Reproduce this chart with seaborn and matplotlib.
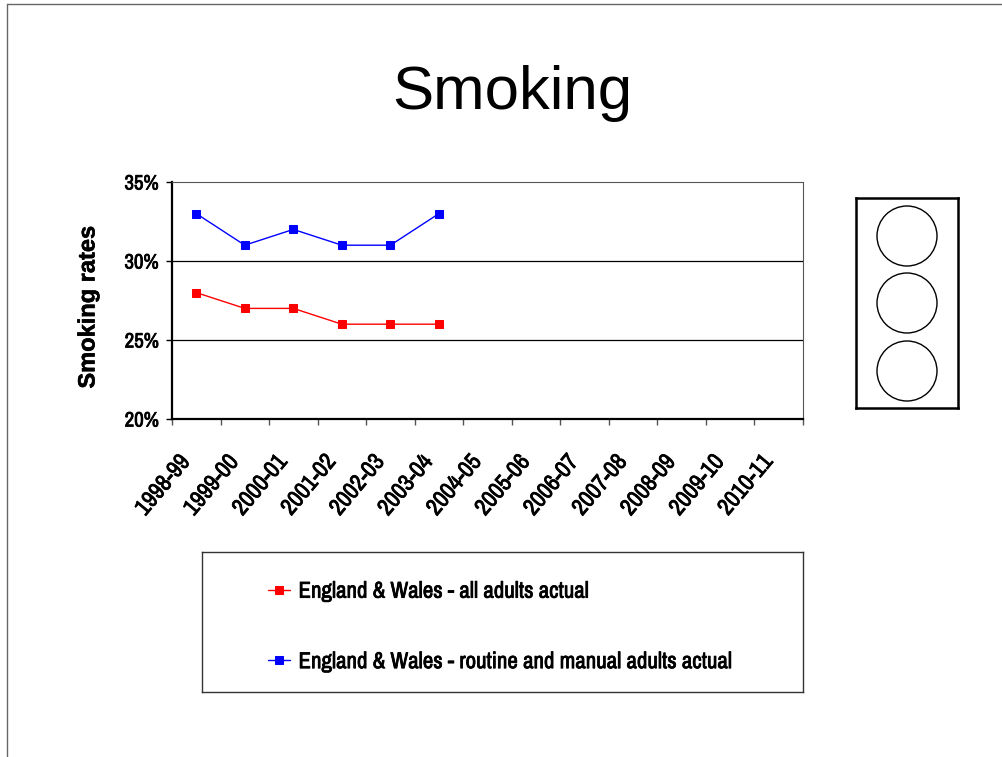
import matplotlib
matplotlib.use("Agg")
import matplotlib.pyplot as plt
import matplotlib.transforms as mtransforms
from matplotlib import font_manager, patheffects
from matplotlib.lines import Line2D
from matplotlib.patches import Circle
from matplotlib.ticker import PercentFormatter, FixedLocator
import pandas as pd
import seaborn as sns

# data
years = ["1998-99", "1999-00", "2000-01", "2001-02", "2002-03", "2003-04",
         "2004-05", "2005-06", "2006-07", "2007-08", "2008-09", "2009-10", "2010-11"]
all_adults = [28, 27, 27, 26, 26, 26]
routine_manual = [33, 31, 32, 31, 31, 33]
series_names = ["England & Wales - all adults actual",
                "England & Wales - routine and manual adults actual"]

df = pd.concat([
    pd.DataFrame({"year": years[:len(all_adults)], "rate": all_adults, "series": series_names[0]}),
    pd.DataFrame({"year": years[:len(routine_manual)], "rate": routine_manual, "series": series_names[1]}),
])

sns.set_theme(style="white")
plt.rcParams["font.family"] = ["Liberation Sans", "DejaVu Sans"]
plt.rcParams["text.color"] = "black"
plt.rcParams["axes.labelcolor"] = "black"
plt.rcParams["xtick.color"] = "black"
plt.rcParams["ytick.color"] = "black"
narrow = {"family": ["Archivo Narrow", "Liberation Sans", "DejaVu Sans"], "weight": "bold"}
# the narrow face has no bold, so thicken it with a thin stroke
heavy = [patheffects.withStroke(linewidth=0.55, foreground="black")]

W, H = 1003, 757
fig = plt.figure(figsize=(W / 100, H / 100), dpi=100)
fig.patch.set_facecolor("white")


def box(x0, y0, x1, y1):
    # pixel box -> figure fraction rect
    return [x0 / W, 1 - y1 / H, (x1 - x0) / W, (y1 - y0) / H]


ax = fig.add_axes(box(172, 182, 803, 419))
sns.pointplot(data=df, x="year", y="rate", hue="series", order=years,
              hue_order=series_names, palette=["#ff0000", "#0000ff"],
              markers="s", linestyles="-", errorbar=None, ax=ax,
              linewidth=1, markersize=5.5, dodge=False)

ax.set_ylim(20, 35)
ax.set_xlim(-0.5, len(years) - 0.5)
ax.yaxis.set_major_locator(FixedLocator([20, 25, 30, 35]))
ax.yaxis.set_major_formatter(PercentFormatter(100, decimals=0))
for y in [25, 30]:
    ax.axhline(y, color="black", lw=0.9, zorder=0)

ax.set_xlabel("")
ax.set_ylabel("")
# axis title, bold Arial-like
fig.text(88 / W, 1 - 307 / H, "Smoking rates", rotation=90, ha="center", va="center",
         fontsize=17, fontweight="bold", family=["Liberation Sans", "DejaVu Sans"],
         path_effects=[patheffects.withStroke(linewidth=0.4, foreground="black")])

for s in ["left", "bottom"]:
    ax.spines[s].set_color("black")
    ax.spines[s].set_linewidth(1.6)
for s in ["top", "right"]:
    ax.spines[s].set_color("#555555")
    ax.spines[s].set_linewidth(0.8)

ax.tick_params(axis="y", direction="out", length=4.5, width=1, color="black",
               left=True, pad=5)
for lab in ax.get_yticklabels():
    lab.set_fontproperties(font_manager.FontProperties(size=15, **narrow))
    lab.set_path_effects(heavy)

ax.set_xticks(range(len(years)))
ax.set_xticklabels(years)
ax.set_xticks([i - 0.5 for i in range(len(years) + 1)], minor=True)
ax.tick_params(axis="x", which="major", length=0, pad=23)
ax.tick_params(axis="x", which="minor", direction="out", length=4.5, width=1,
               color="#555555", bottom=True)
shift = mtransforms.ScaledTranslation(-2 / 100, 0, fig.dpi_scale_trans)
for lab in ax.get_xticklabels():
    lab.set_rotation(50)
    lab.set_ha("right")
    lab.set_va("top")
    lab.set_fontproperties(font_manager.FontProperties(size=17, **narrow))
    lab.set_path_effects(heavy)
    lab.set_transform(lab.get_transform() + shift)

handles, labels = ax.get_legend_handles_labels()
ax.get_legend().remove()

# legend box
lax = fig.add_axes(box(202, 552, 803, 692))
lax.set_xticks([])
lax.set_yticks([])
for s in lax.spines.values():
    s.set_color("#333333")
    s.set_linewidth(1)
leg = lax.legend(handles, labels, loc="center left", bbox_to_anchor=(0.09, 0.465),
                 frameon=False, borderpad=0, handlelength=1.0, handletextpad=0.35,
                 labelspacing=2.2, prop=font_manager.FontProperties(size=16.5, **narrow))
for t in leg.get_texts():
    t.set_path_effects(heavy)

# traffic light
tax = fig.add_axes(box(856, 198, 958, 408))
tax.set_xlim(0, 102)
tax.set_ylim(210, 0)
tax.set_xticks([])
tax.set_yticks([])
for s in tax.spines.values():
    s.set_color("black")
    s.set_linewidth(1.8)
for cy in [38, 105, 173]:
    tax.add_patch(Circle((51, cy), 30, fill=False, ec="black", lw=1))

# title
fig.text(512 / W, 1 - 93 / H, "Smoking", ha="center", va="center", fontsize=44.5)

# page border
fig.add_artist(Line2D([7 / W, 1], [1 - 4 / H, 1 - 4 / H], color="#666666", lw=1))
fig.add_artist(Line2D([7 / W, 7 / W], [0, 1 - 4 / H], color="#666666", lw=1))

fig.savefig("out.png", dpi=100)
